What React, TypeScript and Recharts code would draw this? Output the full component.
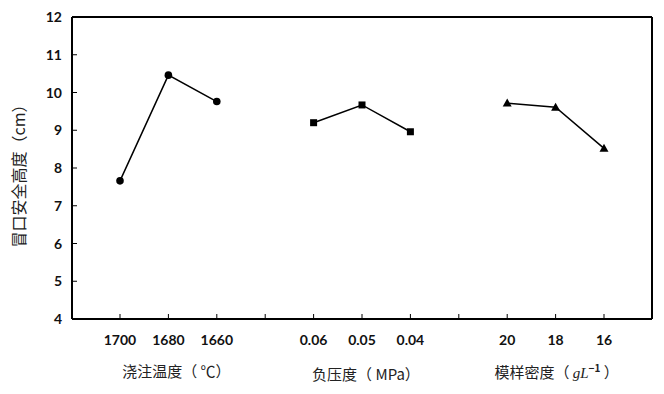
import React from 'react'
import { LineChart, Line, XAxis, YAxis, ReferenceLine } from 'recharts'

// categories along the x axis, blanks separate the three factor groups
const categories = ['1700', '1680', '1660', '', '0.06', '0.05', '0.04', '', '20', '18', '16']
const pouringTemp = [7.66, 10.46, 9.76]
const negPressure = [9.2, 9.67, 8.96]
const patternDensity = [9.72, 9.61, 8.52]
const yTicks = [4, 5, 6, 7, 8, 9, 10, 11, 12]
// group titles sit under the middle category of each group
const groupTitles: Record<number, string> = { 1: '浇注温度（ ℃）', 5: '负压度（ MPa）', 9: 'density' }
const yTitle = '冒口安全高度（cm）'

const data = categories.map((label, i) => ({
    idx: i,
    label,
    temp: i < 3 ? pouringTemp[i] : null,
    pressure: i >= 4 && i < 7 ? negPressure[i - 4] : null,
    density: i >= 8 ? patternDensity[i - 8] : null,
}))

const cjkFont = 'Noto Sans CJK SC'

const GroupTitle = ({ idx, x, y }: { idx: number; x: number; y: number }) => {
    if (idx === 9) {
        return (
            <text x={x + 1} y={y + 59} textAnchor="middle" fontFamily={cjkFont} fontSize={15} fill="#222">
                模样密度（ <tspan fontFamily="Liberation Serif" fontStyle="italic">gL</tspan>
                <tspan dy={-6} fontSize={10} fontWeight={700}>−1</tspan>
                <tspan dy={6}> ）</tspan>
            </text>
        )
    }
    return (
        <text x={x + (idx === 1 ? 8 : 4)} y={y + (idx === 1 ? 58 : 61)} textAnchor="middle" fontFamily={cjkFont} fontSize={15} fill="#222">
            {groupTitles[idx]}
        </text>
    )
}

const XTick = (props: any) => {
    const { x, y, payload } = props
    const idx = payload.value
    return (
        <g>
            <rect x={x - 0.5} y={y - 5} width={1} height={5} fill="#000" />
            <text x={x} y={y + 26} textAnchor="middle" fontFamily="Lato" fontWeight={700} fontSize={14} fill="#111">
                {categories[idx]}
            </text>
            {groupTitles[idx] && <GroupTitle idx={idx} x={x} y={y} />}
        </g>
    )
}

const YTick = (props: any) => {
    const { x, y, payload } = props
    return (
        <g>
            <rect x={x} y={y - 0.5} width={5} height={1} fill="#000" />
            <text x={x - 10} y={y + 5} textAnchor="end" fontFamily="Lato" fontWeight={700} fontSize={14} fill="#111">
                {payload.value}
            </text>
        </g>
    )
}

const YTitle = (props: any) => {
    const { viewBox } = props
    const cy = viewBox.y + viewBox.height / 2 + 4
    return (
        <text
            transform={`translate(25,${cy}) rotate(-90)`}
            textAnchor="middle"
            fontFamily={cjkFont}
            fontSize={16}
            fill="#222"
        >
            {yTitle}
        </text>
    )
}

const CircleDot = (props: any) => {
    const { cx, cy, value } = props
    if (value == null) return <g />
    return <circle cx={cx} cy={cy} r={3.8} fill="#000" />
}

const SquareDot = (props: any) => {
    const { cx, cy, value } = props
    if (value == null) return <g />
    return <rect x={cx - 3.5} y={cy - 3.5} width={7} height={7} fill="#000" />
}

const TriangleDot = (props: any) => {
    const { cx, cy, value } = props
    if (value == null) return <g />
    return <polygon points={`${cx},${cy - 4.5} ${cx + 4.5},${cy + 3.5} ${cx - 4.5},${cy + 3.5}`} fill="#000" />
}

export default function App() {
    return (
        <div style={{ position: 'absolute', left: 0, top: 0, width: 664, height: 394 }}>
            <LineChart width={664} height={394} data={data} margin={{ top: 17, right: 11, bottom: 45, left: 0 }}>
                <XAxis
                    dataKey="idx"
                    padding={{ left: 48, right: 48 }}
                    height={30}
                    stroke="#000"
                    strokeWidth={2}
                    tickLine={false}
                    tickSize={0}
                    tickMargin={0}
                    interval={0}
                    tick={<XTick />}
                />
                <YAxis
                    domain={[4, 12]}
                    ticks={yTicks}
                    width={72}
                    stroke="#000"
                    strokeWidth={2}
                    tickLine={false}
                    tickSize={0}
                    tickMargin={0}
                    interval={0}
                    tick={<YTick />}
                    label={<YTitle />}
                />
                <YAxis
                    yAxisId="frame"
                    orientation="right"
                    width={1}
                    domain={[4, 12]}
                    stroke="#000"
                    strokeWidth={2}
                    tick={false}
                    tickLine={false}
                />
                <ReferenceLine y={12} stroke="#000" strokeWidth={2} />
                <Line
                    type="linear"
                    dataKey="temp"
                    stroke="#000"
                    strokeWidth={1.5}
                    dot={<CircleDot />}
                    activeDot={false}
                    isAnimationActive={false}
                />
                <Line
                    type="linear"
                    dataKey="pressure"
                    stroke="#000"
                    strokeWidth={1.5}
                    dot={<SquareDot />}
                    activeDot={false}
                    isAnimationActive={false}
                />
                <Line
                    type="linear"
                    dataKey="density"
                    stroke="#000"
                    strokeWidth={1.5}
                    dot={<TriangleDot />}
                    activeDot={false}
                    isAnimationActive={false}
                />
            </LineChart>
        </div>
    )
}
